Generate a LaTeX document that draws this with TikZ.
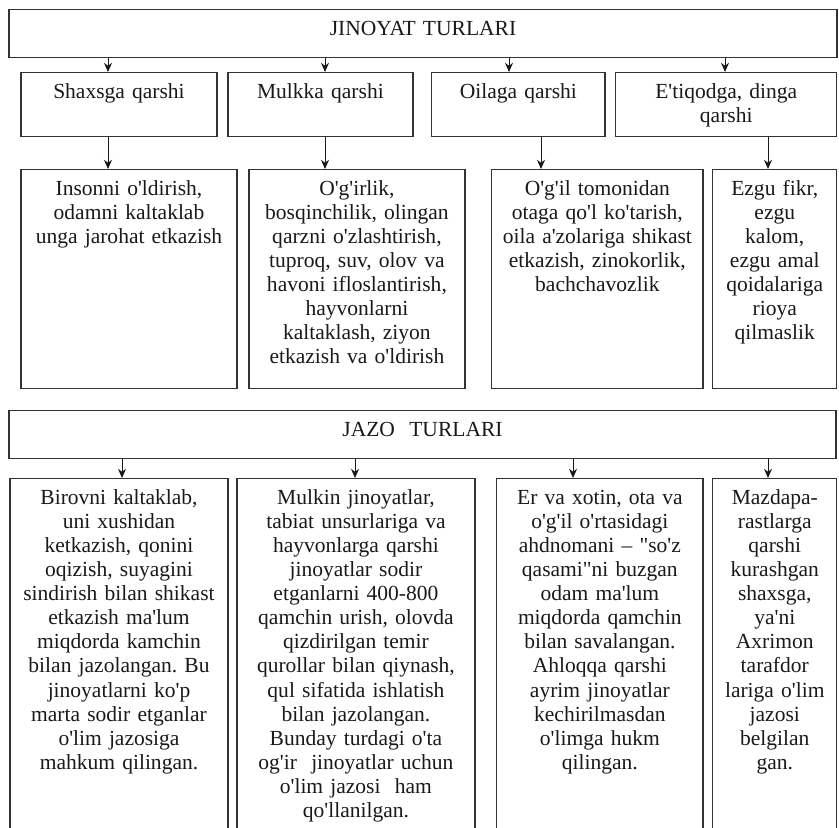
\documentclass[tikz,border=0pt]{standalone}
\usepackage{fontspec}
\setmainfont{Liberation Serif}[Ligatures=TeXOff]
\usetikzlibrary{arrows.meta,positioning}
\tikzstyle{headbox} = [rectangle, draw=black!80, line width=0.9pt, align=center, anchor=north, inner xsep=0.1cm, inner ysep=0.25cm, text height=0.4cm, text depth=0.3cm]
\tikzstyle{kindbox} = [headbox, text depth=0.7cm]
\tikzstyle{descbox} = [headbox, text depth=4.575cm]
\tikzstyle{penbox}  = [headbox, text depth=8.275cm]
\tikzstyle{arrow}   = [line width=0.6pt, -{Stealth[length=2.3mm, width=2mm]}]

\begin{document}
\frenchspacing
\begin{tikzpicture}[x=0.025cm, y=-0.025cm, font=\fontsize{15.3}{17.1}\selectfont, color=black!90]
            \useasboundingbox (0,0) rectangle (839,827);
            %Create nodes for crime types
            \node (jinoyat) [headbox, text width=20.5cm] at (423,9) {JINOYAT TURLARI};
            \node (shaxs)   [kindbox, text width=4.7cm]   at (119,72) {Shaxsga qarshi};
            \node (mulk)    [kindbox, text width=4.425cm, right=0.24cm of shaxs] {Mulkka qarshi};
            \node (oila)    [kindbox, text width=4.125cm, right=0.44cm of mulk]  {Oilaga qarshi};
            \node (etiqod)  [kindbox, text width=5.325cm, right=0.24cm of oila]  {E'tiqodga, dinga\\qarshi};
            \node (shaxs_2) [descbox, text width=5.2cm]   at (129,169) {Insonni o'ldirish,\\odamni kaltaklab\\unga jarohat etkazish};
            \node (mulk_2)  [descbox, text width=5.2cm,   right=0.265cm of shaxs_2] {O'g'irlik,\\bosqinchilik, olingan\\qarzni o'zlashtirish,\\tuproq, suv, olov va\\havoni ifloslantirish,\\hayvonlarni\\kaltaklash, ziyon\\etkazish va o'ldirish};
            \node (oila_2)  [descbox, text width=5.075cm, right=0.64cm of mulk_2] {O'g'il tomonidan\\otaga qo'l ko'tarish,\\oila a'zolariga shikast\\etkazish, zinokorlik,\\bachchavozlik};
            \node (etiqod_2)[descbox, text width=2.9cm,   right=0.215cm of oila_2] {Ezgu fikr,\\ezgu\\kalom,\\ezgu amal\\qoidalariga\\rioya\\qilmaslik};
            %Create nodes for punishment types
            \node (jazo)    [headbox, text width=20.475cm] at (422.5,410) {JAZO~ TURLARI};
            \node (jazo_1)  [penbox, text width=5.25cm]  at (119,478) {Birovni kaltaklab,\\uni xushidan\\ketkazish, qonini\\oqizish, suyagini\\sindirish bilan shikast\\etkazish ma'lum\\miqdorda kamchin\\bilan jazolangan. Bu\\jinoyatlarni ko'p\\marta sodir etganlar\\o'lim jazosiga\\mahkum qilingan.};
            \node (jazo_2)  [penbox, text width=5.75cm,  right=0.19cm of jazo_1] {Mulkin jinoyatlar,\\tabiat unsurlariga va\\hayvonlarga qarshi\\jinoyatlar sodir\\etganlarni 400-800\\qamchin urish, olovda\\qizdirilgan temir\\qurollar bilan qiynash,\\qul sifatida ishlatish\\bilan jazolangan.\\Bunday turdagi o'ta\\og'ir~ jinoyatlar uchun\\o'lim jazosi~ ham\\qo'llanilgan.};
            \node (jazo_3)  [penbox, text width=4.95cm,  right=0.515cm of jazo_2] {Er va xotin, ota va\\o'g'il o'rtasidagi\\ahdnomani – "so'z\\qasami"ni buzgan\\odam ma'lum\\miqdorda qamchin\\bilan savalangan.\\Ahloqqa qarshi\\ayrim jinoyatlar\\kechirilmasdan\\o'limga hukm\\qilingan.};
            \node (jazo_4)  [penbox, text width=2.9cm,   right=0.215cm of jazo_3] {Mazdapa-\\rastlarga\\qarshi\\kurashgan\\shaxsga,\\ya'ni\\Axrimon\\tarafdor\\lariga o'lim\\jazosi\\belgilan\\gan.};
            %Arrow columns
            \coordinate (col_1) at (108,0);
            \coordinate (col_2) at (325,0);
            \coordinate (col_3) at (509,0);
            \coordinate (col_4) at (725,0);
            \coordinate (col_5) at (541,0);
            \coordinate (col_6) at (768,0);
            \coordinate (col_7) at (122,0);
            \coordinate (col_8) at (355,0);
            \coordinate (col_9) at (573,0);
            %Connect crime types
            \draw [arrow] (jinoyat.south -| col_1) -- (shaxs.north -| col_1);
            \draw [arrow] (jinoyat.south -| col_2) -- (mulk.north -| col_2);
            \draw [arrow] (jinoyat.south -| col_3) -- (oila.north -| col_3);
            \draw [arrow] (jinoyat.south -| col_4) -- (etiqod.north -| col_4);
            \draw [arrow] (shaxs.south -| col_1)   -- (shaxs_2.north -| col_1);
            \draw [arrow] (mulk.south -| col_2)    -- (mulk_2.north -| col_2);
            \draw [arrow] (oila.south -| col_5)    -- (oila_2.north -| col_5);
            \draw [arrow] (etiqod.south -| col_6)  -- (etiqod_2.north -| col_6);
            %Connect punishment types
            \draw [arrow] (jazo.south -| col_7) -- (jazo_1.north -| col_7);
            \draw [arrow] (jazo.south -| col_8) -- (jazo_2.north -| col_8);
            \draw [arrow] (jazo.south -| col_9) -- (jazo_3.north -| col_9);
            \draw [arrow] (jazo.south -| col_6) -- (jazo_4.north -| col_6);
\end{tikzpicture}
\end{document}
